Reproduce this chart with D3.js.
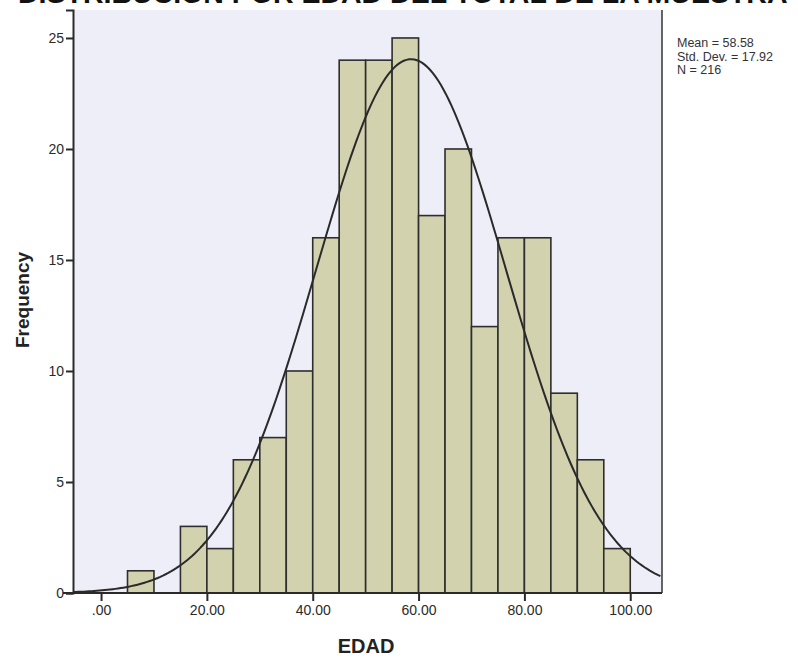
<!DOCTYPE html>
<html>
<head>
<meta charset="utf-8">
<script src="https://cdn.jsdelivr.net/npm/d3@7"></script>
<style>
  body { margin: 0; background: #fff; }
  svg { display: block; font-family: Arial, "Liberation Sans", sans-serif; }
</style>
</head>
<body>
<div id="chart"></div>
<script>
const width = 798;
const height = 658;
const margin = {left: 73, right: 136, top: 10, bottom: 65};

// histogram bins (lower edge, width 5) and their counts
const binStarts = [5, 10, 15, 20, 25, 30, 35, 40, 45, 50, 55, 60, 65, 70, 75, 80, 85, 90, 95];
const counts    = [1, 0, 3, 2, 6, 7, 10, 16, 24, 24, 25, 17, 20, 12, 16, 16, 9, 6, 2];
const binWidth = 5;

const xTicks = [0, 20, 40, 60, 80, 100];
const yTicks = [0, 5, 10, 15, 20, 25];

const stats = {mean: 58.58, sd: 17.92, n: 216};
const statLines = ["Mean = 58.58", "Std. Dev. = 17.92", "N = 216"];

const svg = d3.select("#chart")
    .append("svg")
    .attr("width", width)
    .attr("height", height);

const xScale = d3.scaleLinear()
    .domain([-5.3, 106])
    .range([margin.left, width - margin.right]);
const yScale = d3.scaleLinear()
    .domain([0, 26.26])
    .range([height - margin.bottom, margin.top]);

// plot background
svg.append("rect")
    .attr("x", margin.left)
    .attr("y", margin.top)
    .attr("width", xScale.range()[1] - margin.left)
    .attr("height", yScale(0) - margin.top)
    .attr("fill", "#eeeef8");

// bars
const bins = binStarts.map((s, i) => ({x0: s, x1: s + binWidth, count: counts[i]}));
svg.append("g")
    .attr("class", "bars")
  .selectAll("rect")
  .data(bins.filter(d => d.count > 0))
  .enter()
  .append("rect")
    .attr("x", d => xScale(d.x0))
    .attr("y", d => yScale(d.count))
    .attr("width", d => xScale(d.x1) - xScale(d.x0))
    .attr("height", d => yScale(0) - yScale(d.count))
    .attr("fill", "#d3d2ae")
    .attr("stroke", "#2e2e2e")
    .attr("stroke-width", 1.6);

// fitted normal curve from the stats shown
const xs = d3.range(xScale.domain()[0], xScale.domain()[1] + 0.01, 0.5);
const normal = x => stats.n * binWidth / (stats.sd * Math.sqrt(2 * Math.PI)) *
    Math.exp(-0.5 * Math.pow((x - stats.mean) / stats.sd, 2));
svg.append("path")
    .datum(xs)
    .attr("fill", "none")
    .attr("stroke", "#2a2a2a")
    .attr("stroke-width", 2)
    .attr("d", d3.line().x(d => xScale(d)).y(d => yScale(normal(d))));

// right border
svg.append("line")
    .attr("x1", xScale.range()[1]).attr("x2", xScale.range()[1])
    .attr("y1", margin.top).attr("y2", yScale(0))
    .attr("stroke", "#333").attr("stroke-width", 1.5);

// axes
const xAxis = d3.axisBottom(xScale)
    .tickValues(xTicks)
    .tickSize(8)
    .tickPadding(4)
    .tickFormat(d => d === 0 ? ".00" : d3.format(".2f")(d));
const gx = svg.append("g")
    .attr("transform", `translate(0,${yScale(0)})`)
    .call(xAxis);

const yAxis = d3.axisLeft(yScale)
    .tickValues(yTicks)
    .tickSize(7)
    .tickPadding(2)
    .tickFormat(d3.format("d"));
const gy = svg.append("g")
    .attr("transform", `translate(${margin.left},0)`)
    .call(yAxis);

[gx, gy].forEach(g => {
    g.select(".domain").attr("stroke", "#2a2a2a").attr("stroke-width", 2);
    g.selectAll(".tick line").attr("stroke", "#2a2a2a").attr("stroke-width", 2);
    g.selectAll(".tick text")
        .attr("fill", "#2a2a2a")
        .attr("font-size", 14)
        .attr("font-family", "Arial, 'Liberation Sans', sans-serif");
});
gx.select(".domain").attr("d", `M${margin.left - 10},0H${xScale.range()[1]}`);

// axis titles
svg.append("text")
    .attr("x", 366)
    .attr("y", 653)
    .attr("text-anchor", "middle")
    .attr("font-weight", "bold")
    .attr("font-size", 20)
    .attr("fill", "#222")
    .text("EDAD");

svg.append("text")
    .attr("transform", "translate(29,300) rotate(-90)")
    .attr("text-anchor", "middle")
    .attr("font-weight", "bold")
    .attr("font-size", 19)
    .attr("fill", "#222")
    .text("Frequency");

// stats box text
svg.append("g")
    .selectAll("text")
    .data(statLines)
    .enter()
    .append("text")
    .attr("x", 677)
    .attr("y", (d, i) => 47 + i * 13.5)
    .attr("font-size", 12.5)
    .attr("fill", "#333")
    .text(d => d);

// chart title, cut off at the top of the picture
svg.append("text")
    .attr("x", 18)
    .attr("y", 3)
    .attr("font-weight", "bold")
    .attr("font-size", 28.5)
    .attr("fill", "#111")
    .text("DISTRIBUCION POR EDAD DEL TOTAL DE LA MUESTRA");
</script>
</body>
</html>
